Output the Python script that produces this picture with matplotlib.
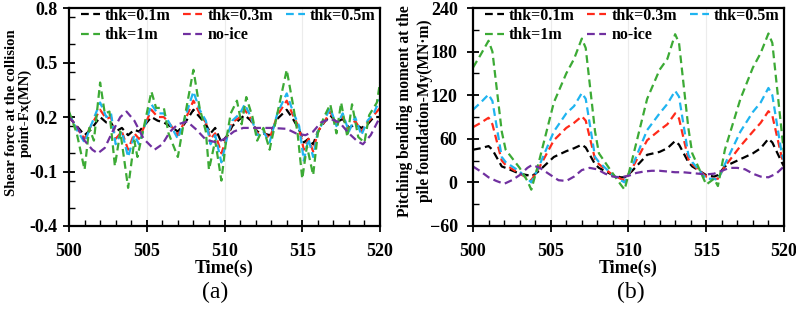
import numpy as np
import matplotlib.pyplot as plt
from matplotlib.ticker import MultipleLocator

plt.rcParams['font.family'] = ['Liberation Serif', 'DejaVu Serif']
plt.rcParams['font.weight'] = 'bold'

labels = ['thk=0.1m', 'thk=0.3m', 'thk=0.5m', 'thk=1m', 'no-ice']
colors = ['black', '#ff2a1a', '#1fb4f0', '#3caa35', '#7030a0']

# ---- (a) shear force Fx (MN) ----
t_a = [500, 500.5, 501, 501.4, 502, 502.4, 502.7, 503, 503.4, 503.8, 504.2, 504.5,
       505.3, 505.7, 506.1, 506.5, 507, 507.4, 508, 508.4, 508.8, 509.1, 509.4, 509.8,
       510.2, 510.5, 511, 511.3, 511.7, 512.1, 512.5, 512.9, 513.4, 514, 514.4, 514.8,
       515.1, 515.4, 515.7, 516, 516.4, 516.8, 517.2, 517.6, 518, 518.4, 518.8, 519.2,
       519.6, 520]
fx_01 = [0.2, 0.15, 0.1, 0.13, 0.2, 0.17, 0.17, 0.12, 0.14, 0.1, 0.13, 0.12,
         0.2, 0.18, 0.17, 0.15, 0.12, 0.16, 0.24, 0.2, 0.16, 0.11, 0.14, 0.06,
         0.1, 0.15, 0.19, 0.21, 0.18, 0.12, 0.11, 0.1, 0.19, 0.24, 0.19, 0.13,
         0.06, 0.08, 0.05, 0.12, 0.17, 0.21, 0.17, 0.19, 0.14, 0.16, 0.14, 0.16,
         0.2, 0.2]
fx_03 = [0.21, 0.14, 0.08, 0.15, 0.24, 0.19, 0.2, 0.08, 0.12, 0.02, 0.11, 0.08,
         0.24, 0.2, 0.2, 0.16, 0.1, 0.17, 0.29, 0.22, 0.17, 0.08, 0.11, 0.0,
         0.1, 0.17, 0.2, 0.24, 0.19, 0.11, 0.12, 0.08, 0.21, 0.29, 0.21, 0.14,
         0.02, 0.08, 0.01, 0.12, 0.17, 0.23, 0.16, 0.2, 0.13, 0.18, 0.12, 0.17,
         0.21, 0.25]
fx_05 = [0.22, 0.13, 0.06, 0.15, 0.28, 0.2, 0.22, 0.05, 0.12, -0.02, 0.1, 0.05,
         0.27, 0.22, 0.22, 0.16, 0.08, 0.18, 0.34, 0.24, 0.18, 0.05, 0.1, -0.05,
         0.1, 0.18, 0.22, 0.27, 0.2, 0.1, 0.12, 0.06, 0.22, 0.33, 0.23, 0.15,
         -0.04, 0.08, -0.02, 0.12, 0.18, 0.25, 0.15, 0.22, 0.12, 0.2, 0.1, 0.18,
         0.22, 0.3]
t_a_1m = [500, 500.5, 501, 501.3, 501.6, 502, 502.3, 502.6, 502.95, 503.3, 503.8, 504.2,
          504.4, 504.8, 505.3, 505.6, 506.1, 506.4, 507, 507.4, 508, 508.4, 508.8, 509,
          509.4, 509.8, 510.1, 510.4, 510.8, 511.1, 511.4, 511.8, 512.1, 512.5, 512.9,
          513.4, 514, 514.4, 514.7, 515, 515.3, 515.7, 516, 516.4, 516.8, 517.2, 517.5,
          517.9, 518.2, 518.6, 519, 519.3, 519.8, 520]
fx_1m = [0.23, 0.11, -0.09, 0.14, 0.07, 0.39, 0.22, 0.23, -0.07, 0.12, -0.19, 0.07,
         -0.02, 0.14, 0.34, 0.25, 0.25, 0.11, -0.02, 0.18, 0.46, 0.25, 0.12, -0.09,
         0.07, -0.15, 0.07, 0.22, 0.29, 0.16, 0.31, 0.2, 0.07, 0.14, 0.02,
         0.22, 0.46, 0.27, 0.11, -0.14, 0.04, -0.12, 0.11, 0.2, 0.27, 0.11, 0.28,
         0.09, 0.27, 0.09, 0.06, 0.21, 0.28, 0.39]
t_a_noice = [500, 500.5, 501, 501.5, 501.85, 502.3, 502.8, 503.3, 503.7, 504.2, 504.8,
             505.5, 506, 506.5, 507, 507.6, 508.2, 508.8, 509.5, 510, 510.6, 511.2,
             512, 513, 514, 514.6, 515.2, 515.7, 516.2, 516.8, 517.4, 518, 518.5,
             518.9, 519.4, 520]
fx_noice = [0.2, 0.15, 0.07, 0.02, 0.0, 0.03, 0.12, 0.2, 0.23, 0.18, 0.08,
            0.02, 0.05, 0.12, 0.16, 0.175, 0.13, 0.075, 0.06, 0.08, 0.12, 0.14,
            0.14, 0.14, 0.135, 0.11, 0.1, 0.12, 0.17, 0.19, 0.17, 0.11, 0.07,
            0.05, 0.1, 0.2]

# ---- (b) pitching moment My (MN·m) ----
t_b = [500, 500.5, 501, 501.25, 501.85, 502.1, 503, 503.5, 503.75, 504.2, 505.2, 506,
       506.5, 507, 507.25, 507.85, 508.1, 509, 509.5, 509.75, 510.2, 511.2, 512, 512.5,
       513, 513.25, 513.85, 514.1, 515, 515.5, 515.75, 516.2, 517.2, 518, 518.5, 519,
       519.25, 519.85, 520]
my_01 = [45, 47, 50, 45, 22, 20, 12, 10, 8, 15, 35, 43,
         47, 52, 48, 25, 20, 10, 7, 7, 15, 38, 42, 47,
         57, 52, 28, 22, 10, 8, 10, 22, 32, 40, 47, 60,
         55, 28, 22]
my_03 = [76, 82, 89, 80, 30, 24, 12, 6, 3, 18, 58, 75,
         82, 91, 85, 32, 25, 10, 5, 3, 18, 58, 72, 80,
         95, 88, 32, 25, 8, 5, 5, 22, 50, 70, 82, 98,
         92, 35, 25]
my_05 = [100, 110, 121, 112, 35, 28, 15, 5, 0, 20, 70, 95,
         105, 123, 115, 35, 28, 10, 3, 0, 20, 72, 95, 108,
         126, 118, 38, 28, 5, 5, 3, 25, 70, 97, 110, 130,
         120, 40, 30]
my_1m = [158, 176, 195, 180, 70, 45, 20, 2, -10, 25, 110, 150,
         170, 198, 185, 70, 40, 12, -3, -10, 28, 115, 155, 170,
         204, 192, 75, 40, -3, 5, -5, 45, 115, 158, 178, 205,
         192, 70, 40]
t_b_noice = [500, 500.5, 501, 501.5, 502, 502.5, 503, 503.5, 503.8, 504.3, 505, 505.5,
             506, 506.5, 507, 507.5, 508, 508.5, 509, 509.5, 510, 510.5, 511, 511.5,
             512, 512.5, 513, 513.5, 514, 514.5, 515, 515.5, 516, 516.5, 517, 517.5,
             518, 518.5, 519, 519.5, 520]
my_noice = [22, 15, 7, 2, -2, 3, 10, 20, 24, 20, 10, 3,
            2, 8, 17, 20, 18, 12, 8, 7, 9, 13, 15, 16,
            16, 15, 14, 14, 13, 12, 11, 12, 16, 20, 20, 18,
            12, 8, 7, 12, 22]

fig = plt.figure(figsize=(7.96, 3.10), dpi=100)
ax1 = fig.add_axes([0.0867, 0.271, 0.3907, 0.703])
ax2 = fig.add_axes([0.5942, 0.271, 0.3907, 0.703])

series_a = [(t_a, fx_01), (t_a, fx_03), (t_a, fx_05), (t_a_1m, fx_1m), (t_a_noice, fx_noice)]
series_b = [(t_b, my_01), (t_b, my_03), (t_b, my_05), (t_b, my_1m), (t_b_noice, my_noice)]

for ax, series in [(ax1, series_a), (ax2, series_b)]:
    lines = []
    for (t, v), lab, c in zip(series, labels, colors):
        ln, = ax.plot(t, v, '--', color=c, lw=1.6, label=lab, dashes=(3.5, 2))
        lines.append(ln)
    # row-major legend order with 3 columns
    order = [0, 3, 1, 4, 2]
    ax.legend([lines[i] for i in order], [labels[i] for i in order], ncol=3,
              loc='upper left', frameon=False, handlelength=1.2,
              handletextpad=0.3, columnspacing=0.8, labelspacing=0.2,
              borderaxespad=0.0, bbox_to_anchor=(0.017, 1.03),
              prop={'weight': 'bold', 'size': 11.5})
    ax.set_xlim(500, 520)
    ax.xaxis.set_major_locator(MultipleLocator(5))
    ax.xaxis.set_minor_locator(MultipleLocator(1))
    ax.grid(axis='x', which='major', color='#ececec', lw=0.8)
    ax.tick_params(which='major', direction='inout', length=8, width=1.3,
                   labelsize=13)
    ax.tick_params(axis='x', which='major', pad=8)
    ax.tick_params(axis='y', which='major', pad=7)
    ax.tick_params(which='minor', direction='in', length=4, width=1.0)
    for s in ax.spines.values():
        s.set_linewidth(1.6)
    for lab in ax.get_xticklabels() + ax.get_yticklabels():
        lab.set_fontweight('bold')
    ax.set_xlabel('Time(s)', fontsize=13, fontweight='bold', labelpad=0)

ax1.set_ylim(-0.4, 0.8)
ax1.set_yticks([-0.4, -0.1, 0.2, 0.5, 0.8])
ax1.set_yticklabels(['-0.4', '-0.1', '0.2', '0.5', '0.8'], fontweight='bold')
ax1.yaxis.set_minor_locator(MultipleLocator(0.15))
ax1.tick_params(axis='y', which='major', pad=4)
ax1.set_ylabel('Shear force at the collision\npoint-Fx(MN)', fontsize=10.6,
               fontweight='bold', linespacing=1.05)
ax1.yaxis.set_label_coords(-0.119, 0.52)

ax2.set_ylim(-60, 240)
ax2.yaxis.set_major_locator(MultipleLocator(60))
ax2.yaxis.set_minor_locator(MultipleLocator(30))
for lab in ax2.get_yticklabels():
    lab.set_fontweight('bold')
ax2.set_ylabel('Pitching bending moment at the\npile foundation-My(MN\u00b7m)', fontsize=11.2,
               fontweight='bold', linespacing=1.3)
ax2.yaxis.set_label_coords(-0.129, 0.528)

fig.text(0.270, 0.058, '(a)', fontsize=17, fontweight='normal', ha='center', va='center')
fig.text(0.793, 0.058, '(b)', fontsize=17, fontweight='normal', ha='center', va='center')

fig.savefig('out.png', dpi=100)
